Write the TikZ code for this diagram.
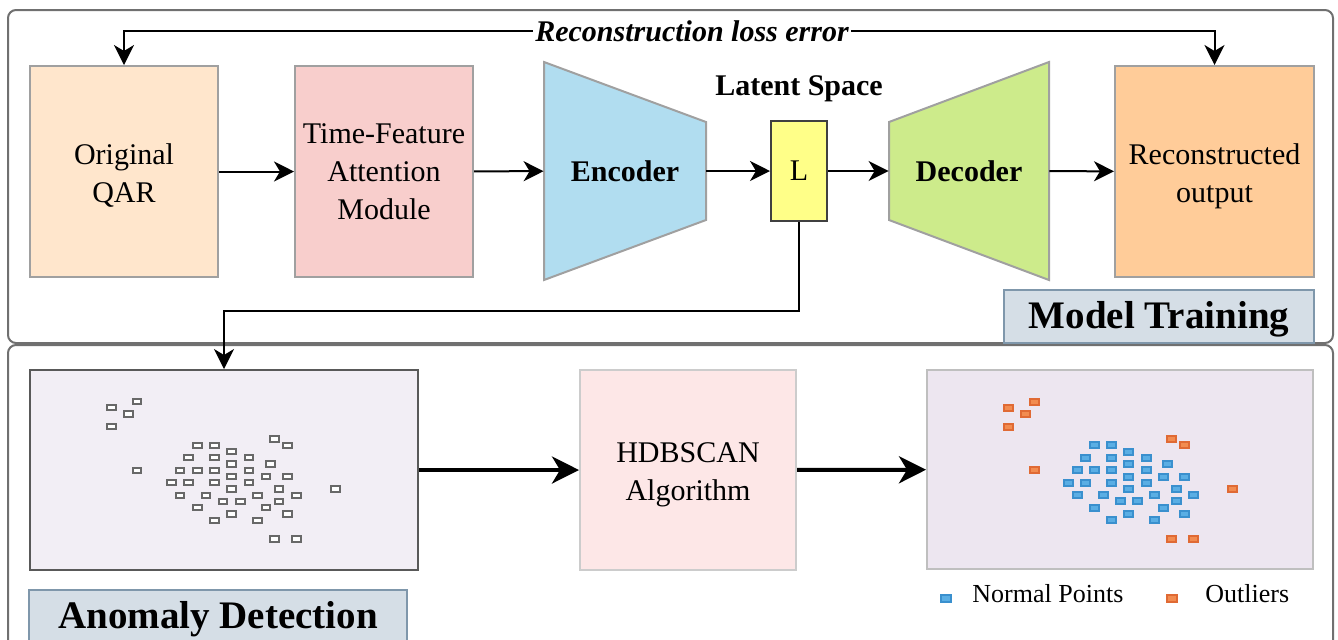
\documentclass[tikz,border=0pt]{standalone}
\usepackage{fontspec}
\setmainfont{Liberation Serif}
\usetikzlibrary{positioning,arrows.meta}

\definecolor{qarfill}{HTML}{FFE6CC}
\definecolor{tffill}{HTML}{F8CECC}
\definecolor{encfill}{HTML}{B1DDF0}
\definecolor{latfill}{HTML}{FFFF88}
\definecolor{decfill}{HTML}{CDEB8B}
\definecolor{recfill}{HTML}{FFCC99}
\definecolor{rawfill}{HTML}{F2EEF5}
\definecolor{hdbfill}{HTML}{FDE7E7}
\definecolor{clusfill}{HTML}{EDE6F0}
\definecolor{tagfill}{HTML}{D5DEE6}
\definecolor{tagedge}{HTML}{7F97AB}
\definecolor{boxgray}{HTML}{A0A0A0}
\definecolor{framegray}{HTML}{707070}
\definecolor{ptgray}{HTML}{686868}
\definecolor{normfill}{HTML}{5AAEE4}
\definecolor{normedge}{HTML}{3A90CE}
\definecolor{outfill}{HTML}{F28C50}
\definecolor{outedge}{HTML}{E06A34}

% point offsets inside a scatter panel (from its top left corner)
\newcommand{\outpts}{81.3/37.7, 107/31.7, 98.7/44, 81.3/56.7, 107/100.3, 244.7/69, 257.7/75.3, 305.3/119, 244.7/169, 266.3/169}
\newcommand{\normpts}{167.3/75.3, 184.7/75.3, 201.7/81.7, 158.7/87.7, 184.7/87.7, 219/87.7, 201.7/94, 240.7/94, 150/100.3, 167.3/100.3, 184.7/100.3, 219/100.3, 201.7/106.7, 236/106.7, 257.7/106.7, 141.3/112.7, 158.7/112.7, 184.7/112.7, 219/112.7, 201.7/119, 249/119, 150/125.3, 176/125.3, 227.7/125.3, 266.3/125.3, 193/131.3, 210.3/131.3, 249/131.3, 167.3/137.7, 236/137.7, 201.7/144, 257.7/144, 184.7/150.3, 227.7/150.3}
% pushes a two-line label down a little
\newcommand{\lift}[1]{\rule{0pt}{#1}}

\begin{document}
\begin{tikzpicture}[x=0.5pt, y=-0.5pt,
    blockbox/.style={rectangle, draw=boxgray, line width=1pt, align=center, inner sep=0pt,
        font=\fontsize{15pt}{19pt}\selectfont},
    shapetext/.style={rectangle, inner sep=0pt, font=\fontsize{15pt}{19pt}\selectfont\bfseries},
    flowarrow/.style={-{Stealth[length=10pt,width=10pt,inset=3pt]}, line width=1pt},
    thickarrow/.style={-{Stealth[length=13.5pt,width=13.5pt,inset=4pt]}, line width=2pt},
    framebox/.style={draw=framegray, line width=1pt, rounded corners=4pt},
    tagbox/.style={rectangle, draw=tagedge, fill=tagfill, line width=1pt, inner sep=0pt,
        text height=13.5pt, font=\fontsize{19.5pt}{23pt}\selectfont\bfseries},
    graypt/.style={draw=ptgray, fill=white, line width=1pt},
    normpt/.style={draw=normedge, fill=normfill, line width=1pt},
    outpt/.style={draw=outedge, fill=outfill, line width=1pt},
    legendtext/.style={inner sep=0pt, font=\fontsize{13pt}{15pt}\selectfont}]

    \useasboundingbox (0,0) rectangle (1338,639);

    % frames
    \draw[framebox] (8,10) rectangle (1333,343);
    \draw[framebox] (8,700) |- (1333,345) -- (1333,700);

    % model training row
    \node[blockbox, fill=qarfill, minimum width=94pt, minimum height=105.5pt] (qar) at (124,171.5) {\lift{14.5pt}Original\\QAR};
    \node[blockbox, fill=tffill, minimum width=89pt, minimum height=105.5pt] (tfam) at (384,171.5) {Time-Feature\\Attention\\Module};
    \filldraw[fill=encfill, draw=boxgray, line width=1pt] (544,62) -- (706,122) -- (706,220) -- (544,280) -- cycle;
    \node[shapetext, minimum width=81pt, minimum height=109pt] (enc) at (625,171) {Encoder};
    \node[blockbox, fill=latfill, draw=black!75, minimum width=28pt, minimum height=50pt] (lat) at (799,171) {L};
    \node[shapetext] (latlabel) [above=9pt of lat] {Latent Space};
    \filldraw[fill=decfill, draw=boxgray, line width=1pt] (889,122) -- (1049,62) -- (1049,280) -- (889,220) -- cycle;
    \node[shapetext, minimum width=80pt, minimum height=109pt] (dec) at (969,171) {Decoder};
    \node[blockbox, fill=recfill, minimum width=99.5pt, minimum height=105.5pt] (rec) at (1214.5,171.5) {\lift{15.5pt}Reconstructed\\output};

    \draw[flowarrow] (qar) -- (tfam);
    \draw[flowarrow] (tfam) -- (enc);
    \draw[flowarrow] (enc) -- (lat);
    \draw[flowarrow] (lat) -- (dec);
    \draw[flowarrow] (dec) -- (rec);

    % loss feedback
    \coordinate (losstop) at (0,31);
    \draw[flowarrow, {Stealth[length=10pt,width=10pt,inset=3pt]}-{Stealth[length=10pt,width=10pt,inset=3pt]}]
        (qar.north) -- (qar.north |- losstop) -- (rec.north |- losstop) -- (rec.north);
    \node[fill=white, inner sep=1pt, font=\fontsize{15pt}{18pt}\selectfont\bfseries\itshape] (losslabel) at (692,31) {Reconstruction loss error};

    \node[tagbox, text depth=2pt, minimum width=155pt, minimum height=26.5pt] (train) at (1159,316.5) {Model Training};

    % anomaly detection row
    \node[blockbox, fill=rawfill, draw=black!65, minimum width=194pt, minimum height=100pt] (raw) at (224,470) {};
    \node[blockbox, fill=hdbfill, draw=black!20, minimum width=108pt, minimum height=100pt] (hdb) at (688,470) {\lift{15pt}HDBSCAN\\Algorithm};
    \node[blockbox, fill=clusfill, draw=black!25, minimum width=193pt, minimum height=99.5pt] (clus) at (1120,469.5) {};

    \coordinate (drop) at (0,311);
    \draw[flowarrow] (lat.south) -- (lat.south |- drop) -| (raw.north);
    \draw[thickarrow] (raw) -- (hdb);
    \draw[thickarrow] (hdb) -- (clus);

    % scatter points
    \foreach \px/\py in \outpts {
        \draw[graypt] (30+\px-4.25,370+\py-2.6) rectangle +(8.5,5.2);
        \draw[outpt] (927+\px-4.5,370+\py-2.9) rectangle +(9,5.8);
    }
    \foreach \px/\py in \normpts {
        \draw[graypt] (30+\px-4.25,370+\py-2.6) rectangle +(8.5,5.2);
        \draw[normpt] (927+\px-4.5,370+\py-2.9) rectangle +(9,5.8);
    }

    % legend
    \node[normpt, rectangle, inner sep=0pt, minimum width=5pt, minimum height=3.5pt] (normkey) at (946,598) {};
    \node[legendtext] (normtext) [right=10pt of normkey, yshift=2pt] {Normal Points};
    \node[outpt, rectangle, inner sep=0pt, minimum width=5pt, minimum height=3.5pt] (outkey) at (1172,598) {};
    \node[legendtext] (outtext) [right=13.5pt of outkey, yshift=2pt] {Outliers};

    \node[tagbox, text depth=3.5pt, minimum width=189pt, minimum height=28pt] (detect) at (218,618) {Anomaly Detection};

\end{tikzpicture}
\end{document}
